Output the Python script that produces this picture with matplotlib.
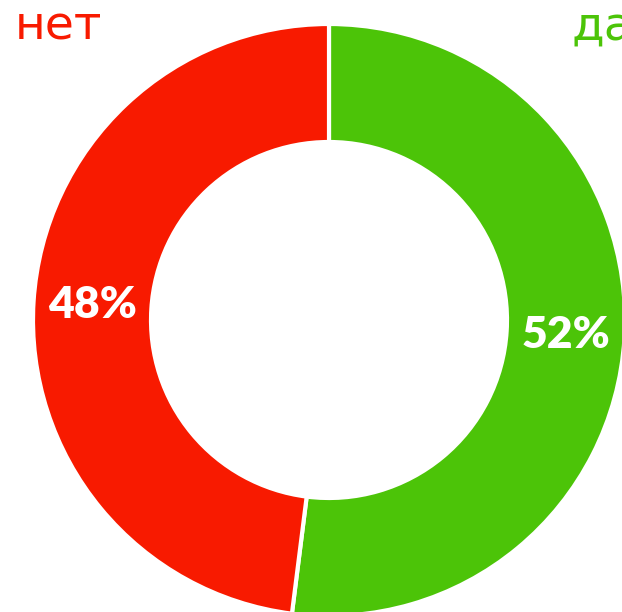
import matplotlib
matplotlib.use("Agg")
import matplotlib.pyplot as plt
import numpy as np

labels = ["да", "нет"]
shares = [52, 48]
colors = ["#4cc408", "#f81a00"]

W, H = 622, 612
cx, cy = 329, H - 320
r_out, r_in = 296, 178

fig = plt.figure(figsize=(W / 100, H / 100), dpi=100)
ax = fig.add_axes([0, 0, 1, 1])

wedges, _ = ax.pie(shares, colors=colors, startangle=90, counterclock=False,
                   center=(cx, cy), radius=r_out,
                   wedgeprops=dict(width=r_out - r_in, edgecolor="white", linewidth=3))

# percent labels at mid-ring
r_mid = (r_out + r_in) / 2
start = 90.0
for w, val in zip(wedges, shares):
    ang = np.deg2rad(start - val * 3.6 / 2)
    start -= val * 3.6
    ax.text(cx + r_mid * np.cos(ang), cy + r_mid * np.sin(ang), f"{val}%",
            color="white", fontsize=32, fontweight="heavy",
            family=["Lato", "DejaVu Sans"], ha="center", va="center")

# category names in the top corners ("да" runs off the right edge as in the source)
ax.text(15, H - 40, labels[1], color=colors[1], fontsize=34,
        family=["DejaVu Sans"], ha="left", va="baseline")
ax.text(572, H - 40, labels[0], color=colors[0], fontsize=34,
        family=["DejaVu Sans"], ha="left", va="baseline")

ax.set_xlim(0, W)
ax.set_ylim(0, H)
ax.set_aspect("auto")
ax.axis("off")

fig.savefig("out.png", dpi=100)
